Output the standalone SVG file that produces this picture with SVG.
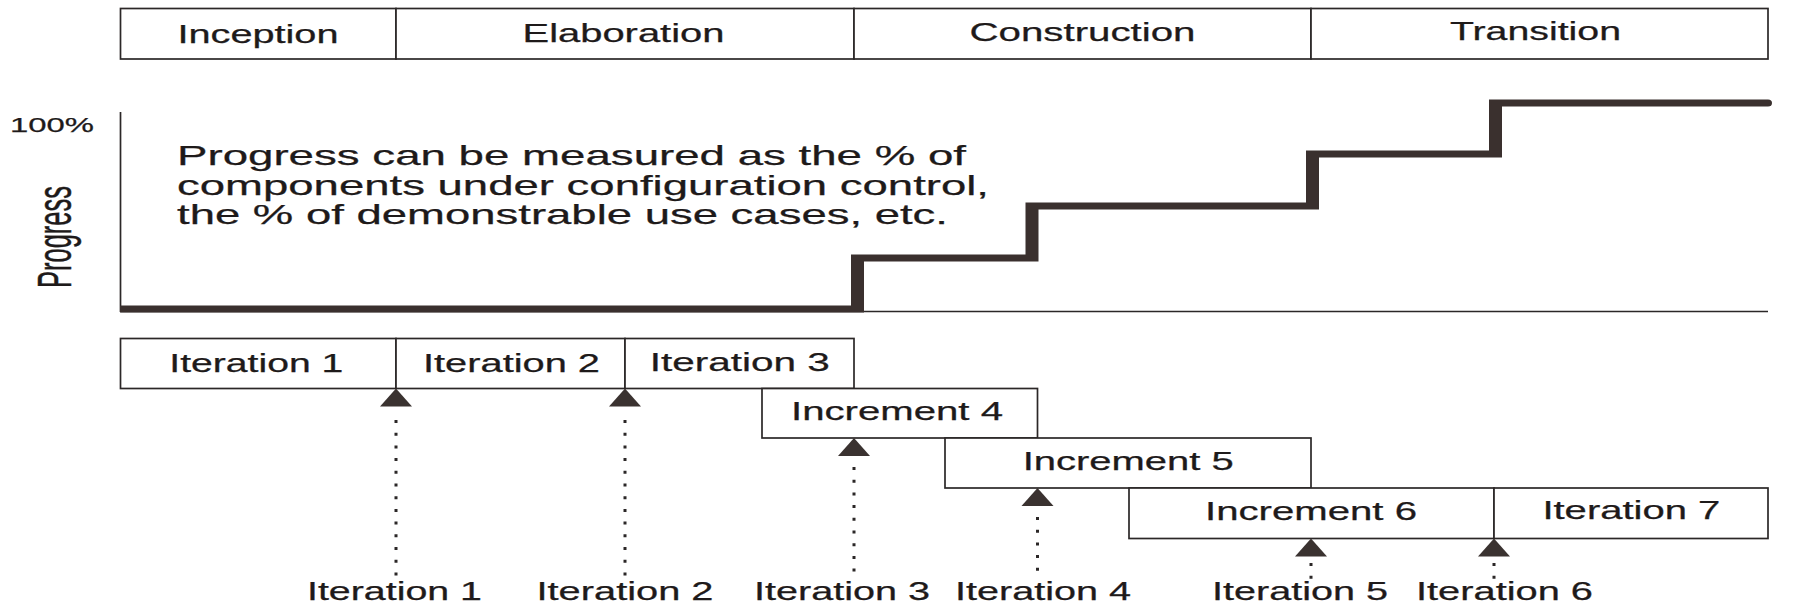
<svg xmlns="http://www.w3.org/2000/svg" width="1806" height="605" viewBox="0 0 1806 605">
  <defs>
    <style>
      .box { fill: #ffffff; stroke: #2b2727; stroke-width: 1.7; }
      .lbl { font-family: "Liberation Sans", Arial, sans-serif; font-size: 25px; fill: #1e1a1a; stroke: #1e1a1a; stroke-width: 0.25; }
      .note { font-family: "Liberation Sans", Arial, sans-serif; font-size: 28.5px; fill: #1e1a1a; stroke: #1e1a1a; stroke-width: 0.25; }
      .axis { stroke: #2b2727; stroke-width: 1.7; fill: none; }
      .dots { stroke: #2b2727; stroke-width: 3; stroke-dasharray: 3 9.7; fill: none; }
      .head { fill: #3a3230; }
    </style>
    <path id="tri" d="M0,0 L16,18 L-16,18 Z"/>
  </defs>

  <rect width="1806" height="605" fill="#ffffff"/>

  <!-- phase bar -->
  <g id="phase-inception">
    <rect class="box" x="120.5" y="8.5" width="275.5" height="50.5"/>
    <text class="lbl" x="177.5" y="43" textLength="161" lengthAdjust="spacingAndGlyphs">Inception</text>
  </g>
  <g id="phase-elaboration">
    <rect class="box" x="396" y="8.5" width="458" height="50.5"/>
    <text class="lbl" x="522.5" y="42" textLength="202" lengthAdjust="spacingAndGlyphs">Elaboration</text>
  </g>
  <g id="phase-construction">
    <rect class="box" x="854" y="8.5" width="457" height="50.5"/>
    <text class="lbl" x="969.5" y="41" textLength="226" lengthAdjust="spacingAndGlyphs">Construction</text>
  </g>
  <g id="phase-transition">
    <rect class="box" x="1311" y="8.5" width="457" height="50.5"/>
    <text class="lbl" x="1450" y="40" textLength="171" lengthAdjust="spacingAndGlyphs">Transition</text>
  </g>

  <!-- progress chart -->
  <g id="progress-chart">
    <line class="axis" x1="120.5" y1="112" x2="120.5" y2="312"/>
    <line class="axis" x1="120.5" y1="311.5" x2="1768" y2="311.5"/>
    <text class="lbl" x="10" y="131.5" style="font-size:21px" textLength="84" lengthAdjust="spacingAndGlyphs">100%</text>
    <text class="lbl" text-anchor="middle" style="font-size:25.5px" transform="translate(71,237) scale(1.85,1) rotate(-90)">Progress</text>
    <path fill="#3a302e" d="M120,305.5 H851 V254.5 H1025.5 V202.5 H1306 V150.5 H1489 V99.5 H1768 Q1772,99.5 1772,103 Q1772,106.5 1768,106.5 H1502 V157.5 H1319 V209.5 H1038.5 V261.5 H864 V312.5 H120 Z"/>
    <text class="note" x="177" y="165" textLength="789" lengthAdjust="spacingAndGlyphs">Progress can be measured as the % of</text>
    <text class="note" x="177" y="194.5" textLength="812" lengthAdjust="spacingAndGlyphs">components under configuration control,</text>
    <text class="note" x="177" y="224" textLength="771" lengthAdjust="spacingAndGlyphs">the % of demonstrable use cases, etc.</text>
  </g>

  <!-- iterations and increments -->
  <g id="iteration-1">
    <rect class="box" x="120.5" y="338.5" width="275.5" height="50"/>
    <text class="lbl" x="169.3" y="371.5" textLength="174" lengthAdjust="spacingAndGlyphs">Iteration 1</text>
  </g>
  <g id="iteration-2">
    <rect class="box" x="396" y="338.5" width="229" height="50"/>
    <text class="lbl" x="423" y="371.5" textLength="177" lengthAdjust="spacingAndGlyphs">Iteration 2</text>
  </g>
  <g id="iteration-3">
    <rect class="box" x="625" y="338.5" width="229" height="50"/>
    <text class="lbl" x="649.7" y="370.5" textLength="180" lengthAdjust="spacingAndGlyphs">Iteration 3</text>
  </g>
  <g id="increment-4">
    <rect class="box" x="762" y="388.5" width="275.5" height="49.5"/>
    <text class="lbl" x="791" y="420" textLength="212" lengthAdjust="spacingAndGlyphs">Increment 4</text>
  </g>
  <g id="increment-5">
    <rect class="box" x="945" y="438" width="366" height="50"/>
    <text class="lbl" x="1022.7" y="469.5" textLength="211" lengthAdjust="spacingAndGlyphs">Increment 5</text>
  </g>
  <g id="increment-6">
    <rect class="box" x="1129" y="488" width="365" height="50.5"/>
    <text class="lbl" x="1205" y="520" textLength="212" lengthAdjust="spacingAndGlyphs">Increment 6</text>
  </g>
  <g id="iteration-7">
    <rect class="box" x="1494" y="488" width="274" height="50.5"/>
    <text class="lbl" x="1542.4" y="519" textLength="178" lengthAdjust="spacingAndGlyphs">Iteration 7</text>
  </g>

  <!-- release points: arrowhead plus dotted leader -->
  <g id="connectors">
    <use href="#tri" class="head" x="396" y="388.5"/>
    <line class="dots" x1="396" y1="420" x2="396" y2="580"/>
    <use href="#tri" class="head" x="625" y="388.5"/>
    <line class="dots" x1="625" y1="420" x2="625" y2="580"/>
    <use href="#tri" class="head" x="854" y="438"/>
    <line class="dots" x1="854" y1="467" x2="854" y2="580"/>
    <use href="#tri" class="head" x="1037.5" y="488"/>
    <line class="dots" x1="1037.5" y1="517" x2="1037.5" y2="580"/>
    <use href="#tri" class="head" x="1311" y="538.5"/>
    <line class="dots" x1="1311" y1="563" x2="1311" y2="580"/>
    <use href="#tri" class="head" x="1494" y="538.5"/>
    <line class="dots" x1="1494" y1="563" x2="1494" y2="580"/>
  </g>

  <!-- release labels -->
  <g id="release-labels">
    <text class="lbl" x="307" y="600" textLength="175" lengthAdjust="spacingAndGlyphs">Iteration 1</text>
    <text class="lbl" x="536.5" y="600" textLength="177" lengthAdjust="spacingAndGlyphs">Iteration 2</text>
    <text class="lbl" x="754" y="600" textLength="176" lengthAdjust="spacingAndGlyphs">Iteration 3</text>
    <text class="lbl" x="955" y="600" textLength="176" lengthAdjust="spacingAndGlyphs">Iteration 4</text>
    <text class="lbl" x="1212" y="600" textLength="176" lengthAdjust="spacingAndGlyphs">Iteration 5</text>
    <text class="lbl" x="1416" y="600" textLength="177" lengthAdjust="spacingAndGlyphs">Iteration 6</text>
  </g>
</svg>
